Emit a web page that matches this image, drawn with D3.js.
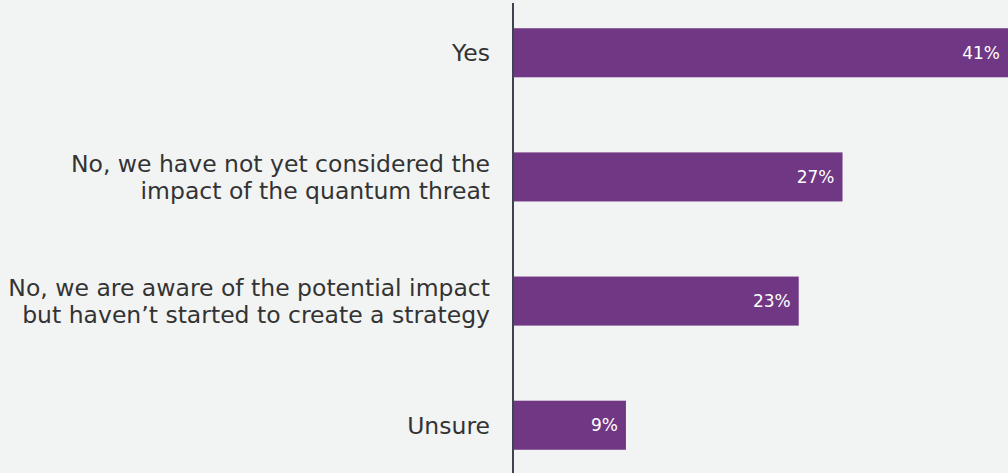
<!DOCTYPE html>
<html>
<head>
<meta charset="utf-8">
<script src="https://cdn.jsdelivr.net/npm/d3@7"></script>
<style>
  body { margin: 0; background: #f2f3f3; }
  svg { display: block; }
</style>
</head>
<body>
<div id="chart-area"></div>
<script>
// data
var categories = [
    "Yes",
    "No, we have not yet considered the\nimpact of the quantum threat",
    "No, we are aware of the potential impact\nbut haven\u2019t started to create a strategy",
    "Unsure"
];
var values = [40.6, 27.0, 23.4, 9.2];
var valueLabels = ["41%", "27%", "23%", "9%"];

var data = categories.map(function(c, i){
    return { cat: c, value: values[i], label: valueLabels[i] };
});

var W = 1008, H = 473;
var margin = { left: 513, right: 0, top: 0, bottom: 0 };
var width = W - margin.left - margin.right;

var svg = d3.select("#chart-area")
    .append("svg")
        .attr("width", W)
        .attr("height", H);

svg.append("rect")
    .attr("width", W)
    .attr("height", H)
    .attr("fill", "#f2f3f3");

var g = svg.append("g")
    .attr("transform", "translate(" + margin.left + ",0)");

// scales
var x = d3.scaleLinear()
    .domain([0, 40.6])
    .range([1, width]);

var y = d3.scaleBand()
    .domain(categories)
    .range([-9, 487])
    .paddingInner(0.605)
    .paddingOuter(0.3);

// bars
g.selectAll("rect.bar")
    .data(data)
    .enter()
    .append("rect")
        .attr("class", "bar")
        .attr("x", x(0))
        .attr("y", function(d){ return y(d.cat); })
        .attr("width", function(d){ return x(d.value) - x(0); })
        .attr("height", y.bandwidth())
        .attr("fill", "#703784");

// value labels
g.selectAll("text.value")
    .data(data)
    .enter()
    .append("text")
        .attr("class", "value")
        .attr("x", function(d){ return x(d.value) - 8; })
        .attr("y", function(d){ return y(d.cat) + y.bandwidth() / 2; })
        .attr("dy", "0.36em")
        .attr("text-anchor", "end")
        .attr("fill", "#ffffff")
        .attr("font-family", "'DejaVu Sans', sans-serif")
        .attr("font-size", "17px")
        .text(function(d){ return d.label; });

// y axis: labels + line
var yAxis = d3.axisLeft(y).tickSize(0).tickPadding(23);
var yAxisGroup = g.append("g")
    .attr("class", "y axis")
    .call(yAxis);

yAxisGroup.select(".domain").remove();

yAxisGroup.selectAll(".tick text")
    .attr("font-family", "'DejaVu Sans', sans-serif")
    .attr("font-size", "23.5px")
    .attr("fill", "#333333")
    .each(function(d){
        var lines = d.split("\n");
        var t = d3.select(this).text(null).attr("dy", null);
        var lh = 27;
        var y0 = -(lines.length - 1) * lh / 2;
        lines.forEach(function(l, i){
            t.append("tspan")
                .attr("x", -23)
                .attr("y", y0 + i * lh)
                .attr("dy", "0.37em")
                .text(l);
        });
    });

g.append("line")
    .attr("x1", 0).attr("x2", 0)
    .attr("y1", 3).attr("y2", H)
    .attr("stroke", "#3d4450")
    .attr("stroke-width", 2);
</script>
</body>
</html>
